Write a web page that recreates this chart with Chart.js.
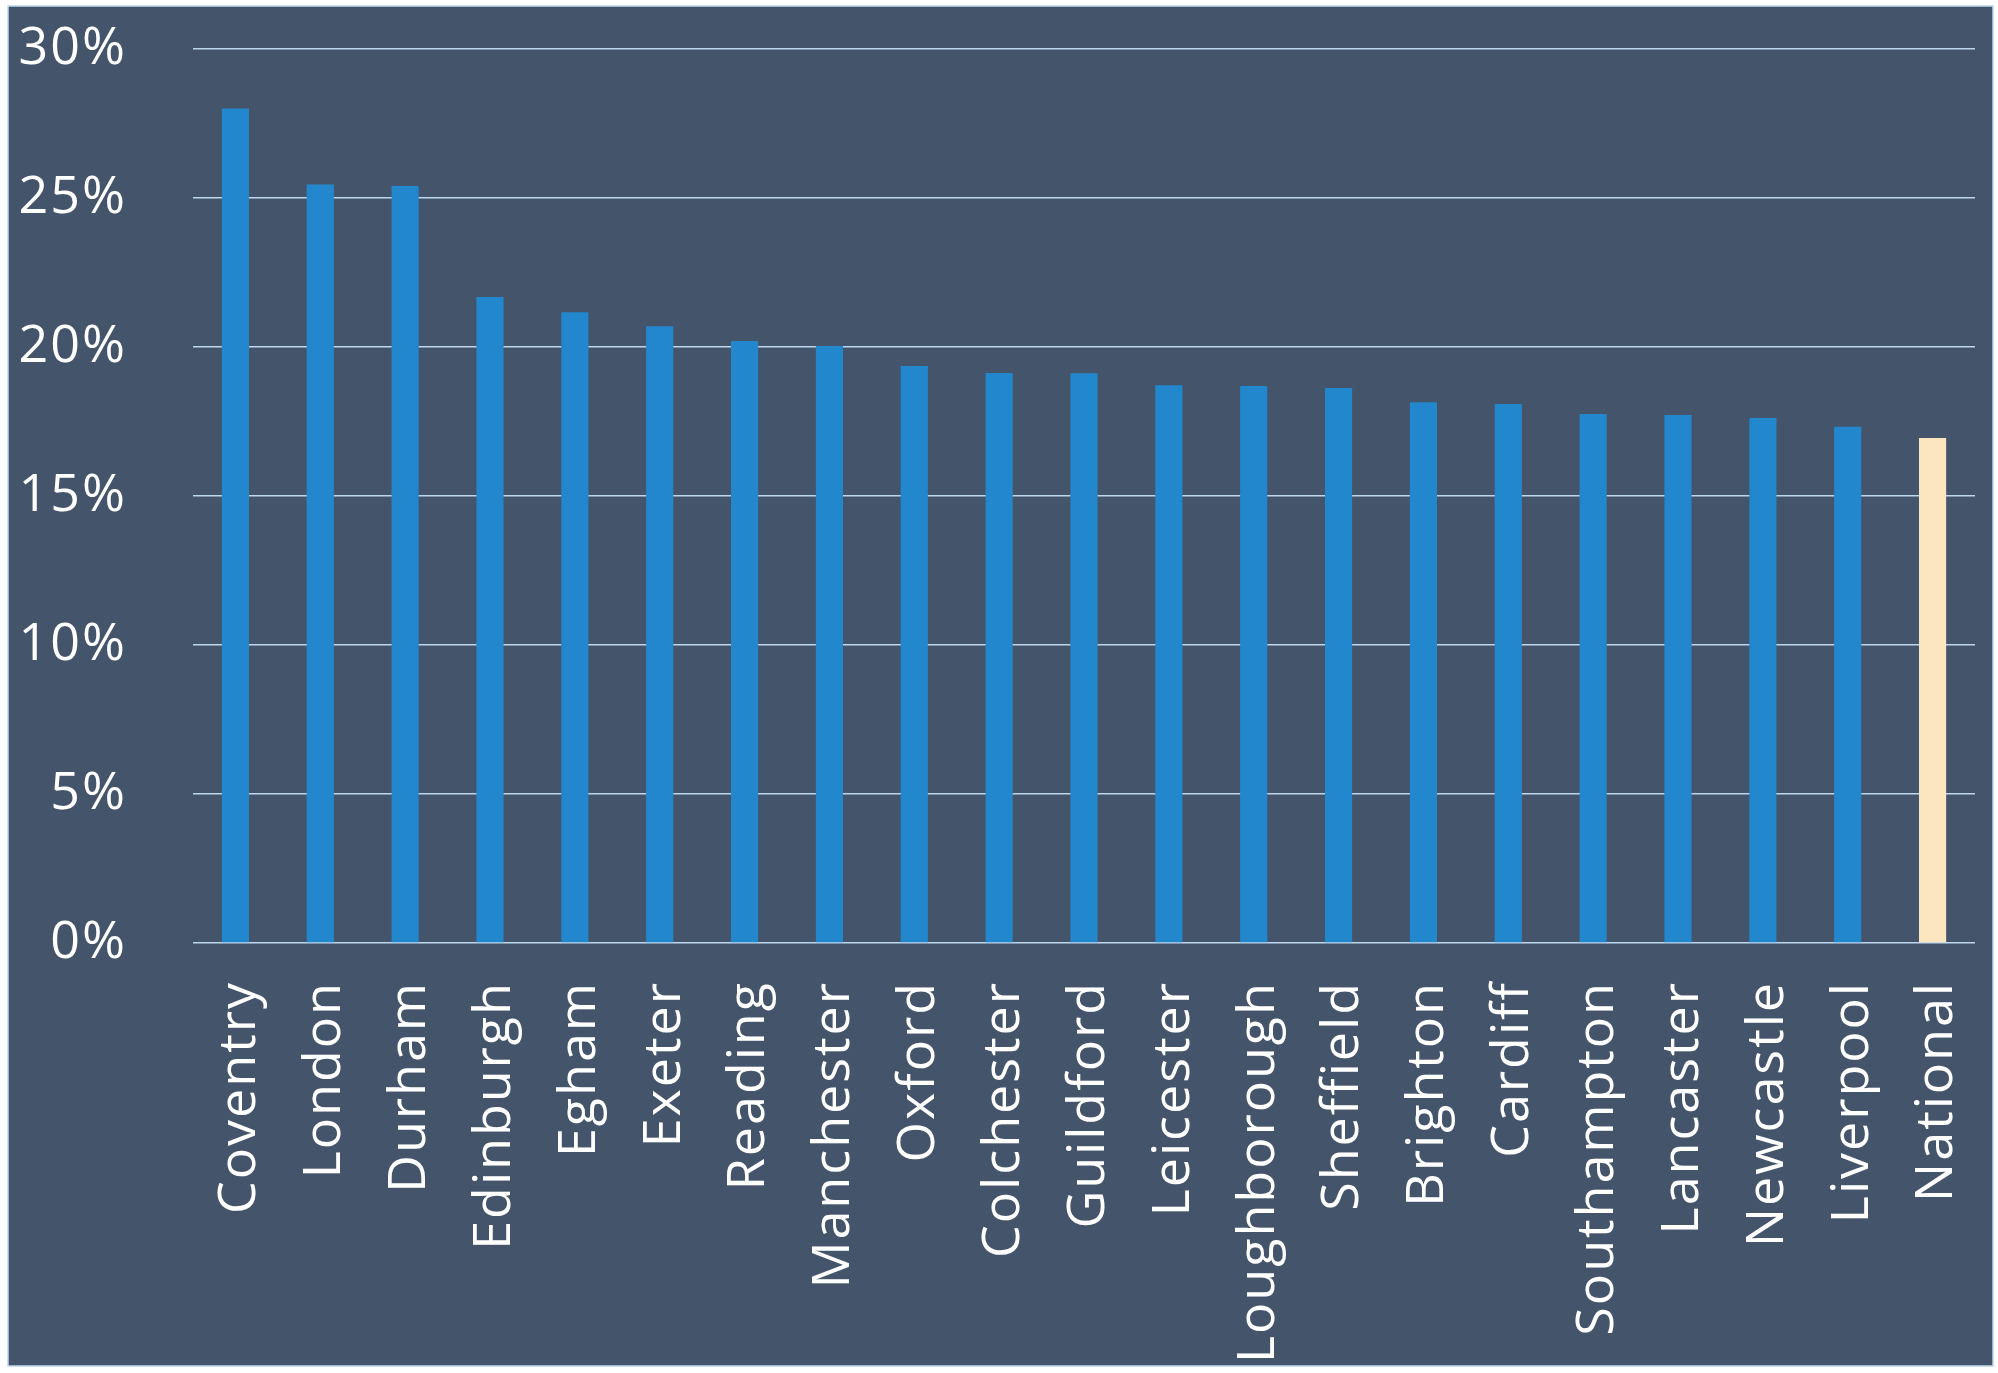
<!DOCTYPE html>
<html>
<head>
<meta charset="utf-8">
<script src="https://cdn.jsdelivr.net/npm/chart.js@4.4.1/dist/chart.umd.min.js"></script>
<style>
  html, body { margin: 0; padding: 0; background: #ffffff; }
  #wrap { width: 1998px; height: 1373px; position: relative; }
</style>
</head>
<body>
<div id="wrap"><canvas id="barChart"></canvas></div>
<script>
// Cities, in the order they are shown
const categories = ['Coventry', 'London', 'Durham', 'Edinburgh', 'Egham', 'Exeter', 'Reading',
    'Manchester', 'Oxford', 'Colchester', 'Guildford', 'Leicester', 'Loughborough', 'Sheffield',
    'Brighton', 'Cardiff', 'Southampton', 'Lancaster', 'Newcastle', 'Liverpool', 'National'];

// Share (percent)
const values = [28.0, 25.45, 25.4, 21.68, 21.17, 20.7, 20.2,
    20.03, 19.36, 19.13, 19.12, 18.72, 18.69, 18.62,
    18.15, 18.09, 17.75, 17.72, 17.62, 17.32, 16.95];

// Y axis ticks
const yTicks = [0, 5, 10, 15, 20, 25, 30];

const barBlue = '#2287cd';
const barNational = '#fbe6c0';
const barColors = categories.map(c => c === 'National' ? barNational : barBlue);

// Dark panel behind the chart, with a thin light border
const panelPlugin = {
    id: 'panel',
    beforeDraw(chart) {
        const ctx = chart.ctx;
        ctx.save();
        ctx.fillStyle = '#ffffff';
        ctx.fillRect(0, 0, chart.width, chart.height);
        ctx.fillStyle = '#44546a';
        ctx.fillRect(8, 6, 1985, 1360);
        ctx.strokeStyle = '#bdd7ee';
        ctx.lineWidth = 1.5;
        ctx.strokeRect(8, 6, 1985, 1360);
        ctx.restore();
        ctx.letterSpacing = '2px';
    }
};

const ctx = document.getElementById('barChart').getContext('2d');
ctx.letterSpacing = '2px';

new Chart(ctx, {
    type: 'bar',
    data: {
        labels: categories,
        datasets: [{
            data: values,
            backgroundColor: barColors,
            borderWidth: 0,
            barPercentage: 0.32,
            categoryPercentage: 1.0
        }]
    },
    options: {
        responsive: true,
        maintainAspectRatio: false,
        devicePixelRatio: 1,
        animation: false,
        layout: { padding: { top: 49, right: 23, left: 0, bottom: 0 } },
        plugins: {
            legend: { display: false },
            tooltip: { enabled: false }
        },
        scales: {
            x: {
                grid: { display: false },
                border: { display: false },
                ticks: {
                    color: '#ffffff',
                    font: { family: 'Open Sans', size: 52 },
                    minRotation: 90,
                    maxRotation: 90,
                    autoSkip: false,
                    labelOffset: 5,
                    padding: 30
                },
                afterFit(scale) {
                    scale.height = 1373 - 943;
                    // no extra overhang, the layout padding handles it
                    scale.paddingLeft = 0;
                    scale.paddingRight = 0;
                }
            },
            y: {
                min: 0,
                max: 30,
                afterBuildTicks(scale) { scale.ticks = yTicks.map(v => ({ value: v })); },
                grid: { color: '#bdd7ee', lineWidth: 1.4, drawTicks: false },
                border: { display: false },
                ticks: {
                    color: '#ffffff',
                    font: { family: 'Open Sans', size: 52 },
                    padding: 66,
                    callback: v => v + '%'
                },
                afterFit(scale) {
                    scale.width = 193;
                    scale.paddingTop = 0;
                    scale.paddingBottom = 0;
                }
            }
        }
    },
    plugins: [panelPlugin]
});
</script>
</body>
</html>
